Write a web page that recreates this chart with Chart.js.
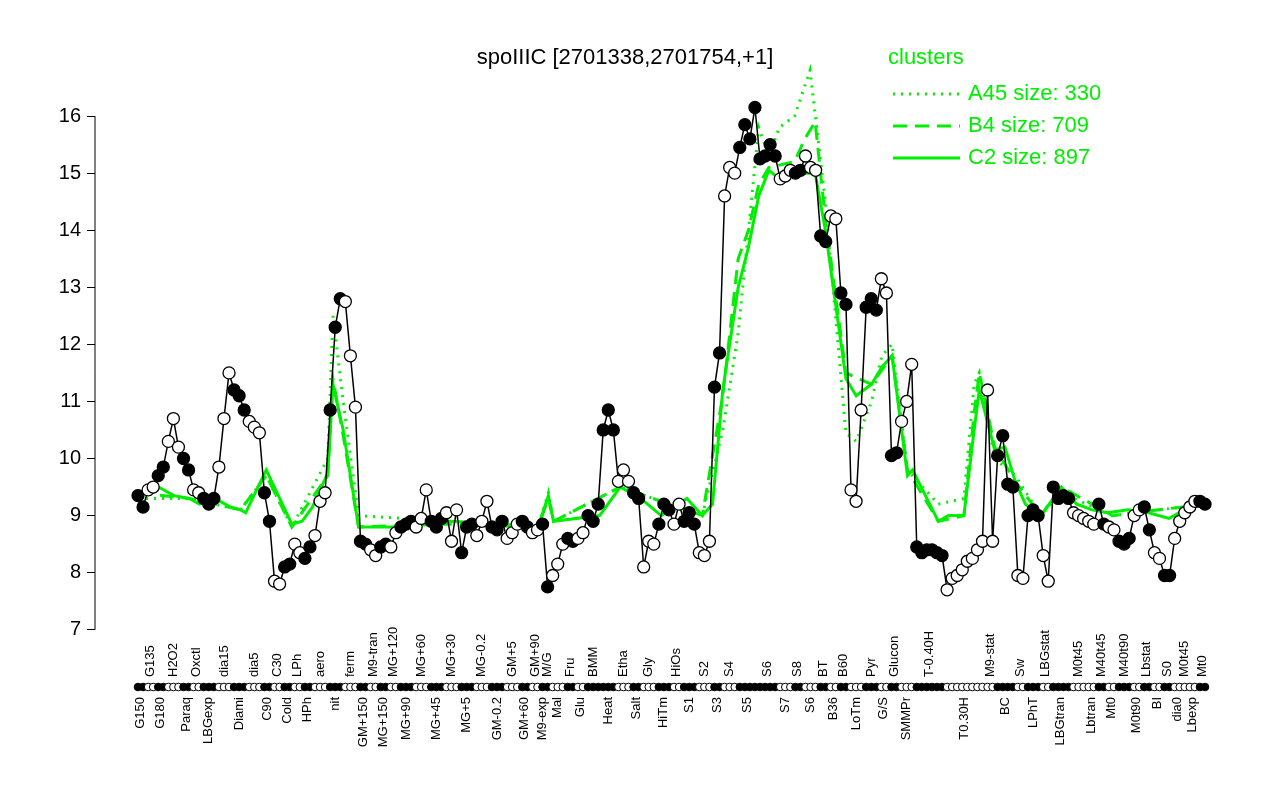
<!DOCTYPE html>
<html><head><meta charset="utf-8">
<script src="https://cdn.jsdelivr.net/npm/chart.js@4"></script>
<style>html,body{margin:0;padding:0;background:#fff}#w{width:1280px;height:800px}</style>
</head><body><div id="w"><canvas id="c"></canvas></div>
<script>
const groupNames = ["G150","G135","G180","H2O2","Paraq","Oxctl","LBGexp","dia15","Diami","dia5","C90","C30","Cold","LPh","HPh","aero","nit","ferm",
"GM+150","M9-tran","MG+150","MG+120","MG+90","MG+60","MG+45","MG+30","MG+5","MG-0.2","GM-0.2","GM+5","GM+60","GM+90","M9-exp",
"M/G","Mal","Fru","Glu","BMM","Heat","Etha","Salt","Gly","HiTm","HiOs","S1","S2","S3","S4","S5","S6","S7","S8","S6","BT","B36","B60","LoTm","Pyr","G/S","Glucon","SMMPr",
"T-0.40H","T0.30H","M9-stat","BC","Sw","LPhT","LBGstat","LBGtran","M0t45","Lbtran","M40t45","Mt0","M40t90","M0t90","Lbstat","BI","S0","dia0","M0t45","Lbexp","Mt0"];
const groupValues = [[9.35,9.15],[9.45,9.5],[9.7,9.85],[10.3,10.7,10.2],[10.0,9.8],[9.45,9.4],[9.3,9.2,9.3],[9.85,10.7,11.5],[11.2,11.1,10.85],[10.65,10.55,10.45],[9.4,8.9],[7.85,7.8],[8.1,8.15],[8.5,8.35],[8.25,8.45],[8.65,9.25,9.4],[10.85,12.3,12.8],[12.75,11.8,10.9],
[8.55,8.5],[8.4,8.3],[8.45,8.5],[8.45,8.7],[8.8,8.85,8.9],[8.8,8.95,9.45],[8.9,8.8,8.95],[9.05,8.55,9.1],[8.35,8.8,8.85],[8.65,8.9,9.25],[8.8,8.75,8.9],[8.6,8.7,8.85],[8.9,8.8],[8.7,8.75],[8.85],
[7.75],[7.95,8.15,8.5],[8.6,8.55],[8.6,8.7],[9.0,8.9,9.2],[10.5,10.85,10.5],[9.6,9.8,9.6],[9.4,9.3],[8.1,8.55,8.5],[8.85,9.2,9.1],[8.85,9.2],[8.9,9.05,8.85],[8.35,8.3,8.55],[11.25,11.85],[14.6,15.1,15.0],[15.45,15.85,15.6,16.15],[15.25,15.3,15.5,15.3],[14.9,14.95,15.05],[15.0,15.05],[15.3,15.1,15.05],[13.9,13.8],[14.25,14.2],[12.9,12.7],[9.45,9.25,10.85],[12.65,12.8,12.6],[13.15,12.9],[10.05,10.1],[10.65,11.0,11.65],
[8.45,8.35,8.4,8.4,8.35,8.3],[7.7,7.9,7.95,8.05,8.2,8.25,8.4,8.55],[11.2,8.55],[10.05,10.4,9.55,9.5],[7.95,7.9],[9.0,9.1,9.0],[8.3,7.85],[9.5,9.3,9.35,9.3],[9.05,9.0,8.95],[8.9,8.85],[9.2,8.85],[8.8,8.75],[8.55,8.5,8.6],[9.0,9.1],[9.15,8.75],[8.35,8.25],[7.95,7.95],[8.6,8.9],[9.05],[9.15,9.25],[9.25,9.2]];
const groupFilled = [1,0,1,0,1,0,1,0,1,0,1,0,1,0,1,0,1,0,1,0,1,0,1,0,1,0,1,0,1,0,1,0,1,1,0,1,0,1,1,0,1,0,1,0,1,0,1,0,1,1,0,1,0,1,0,1,0,1,0,1,0,1,0,0,1,0,1,0,1,0,0,1,0,1,0,1,0,1,0,0,0,1];
const c2X = [0,4,7,10,12,15,18,20,21,25,30,32,34,37,38,40,43,51,61,71,78,80,81,90,94,98,102,107,110,112,114,117,119,121,123,125,128,132,134,138,140,143,145,147,150,151,156,158,161,163,164,167,169,171,173,176,180,183,186,189,193,197,201,204,208];
const c2Y = [9.4,9.5,9.35,9.3,9.2,9.3,9.15,9.1,9.05,9.8,8.85,8.9,9.15,9.75,11.3,10.5,8.8,8.8,8.9,8.85,8.8,9.35,8.9,9.0,9.5,9.3,9.0,9.3,9.0,9.2,11.2,13.0,13.7,14.6,15.05,14.9,15.0,15.0,14.0,11.4,11.1,11.3,11.6,11.8,9.7,9.8,8.9,9.0,9.0,10.5,11.2,10.15,10.2,9.6,9.2,9.0,9.5,9.2,9.1,9.05,9.1,9.05,8.95,9.1,9.2];
const b4X = [0,10,20,25,30,37,38,40,43,60,78,80,81,94,110,114,117,119,121,123,128,130,132,134,138,143,147,150,156,161,163,164,167,171,176,180,190,208];
const b4Y = [9.4,9.3,9.1,9.7,8.8,9.7,11.4,10.4,8.8,8.85,8.8,9.3,8.9,9.5,9.0,11.1,13.5,14.0,14.8,15.1,15.2,15.6,15.9,14.2,11.5,11.3,11.8,9.8,8.9,9.0,10.8,11.5,10.2,9.6,9.0,9.5,9.0,9.2];
const a45X = [0,10,20,25,30,37,38,40,43,60,78,80,81,94,110,114,117,119,121,123,125,128,131,134,138,140,143,145,147,150,156,161,163,164,167,171,176,180,190,208];
const a45Y = [9.3,9.3,9.1,9.7,8.8,10.0,12.5,11.0,9.0,8.9,8.8,9.4,8.9,9.5,9.0,10.5,12.2,14.0,15.8,15.3,15.8,16.0,16.8,14.5,10.45,10.3,11.0,11.8,12.0,9.8,9.2,9.3,11.3,11.5,10.0,9.7,9.0,9.4,9.0,9.2];
const yTicks = [7,8,9,10,11,12,13,14,15,16];
const titleText = "spoIIIC [2701338,2701754,+1]";
const legendItems = [["A45 size: 330",[2,6]],["B4 size: 709",[14,8]],["C2 size: 897",[]]];

const labels=[], values=[], filled=[];
groupNames.forEach((g,i)=>{groupValues[i].forEach(v=>{labels.push(g);values.push(v);filled.push(groupFilled[i]);});});
const N = values.length;
const toXY=(xs,ys)=>xs.map((x,i)=>({x:x*(N-1)/208,y:ys[i]}));
const GREEN='#00ee00';
const FONT='"Liberation Sans", Arial, sans-serif';

const deco={id:'deco',afterDraw(ch){
 const ctx=ch.ctx, xs=ch.scales.x, ys=ch.scales.y, a=ch.chartArea;
 ctx.save();
 ctx.strokeStyle='#000';ctx.lineWidth=1;
 ctx.beginPath();ctx.moveTo(a.left,ys.getPixelForValue(7));ctx.lineTo(a.left,ys.getPixelForValue(16));ctx.stroke();
 ctx.fillStyle='#000';ctx.font='22px '+FONT;ctx.textAlign='center';ctx.textBaseline='middle';
 ctx.fillText(titleText,625,58);
 ctx.fillStyle=GREEN;ctx.textAlign='left';ctx.font='22px '+FONT;
 ctx.fillText('clusters',888,58);
 legendItems.forEach((it,k)=>{const y=94+k*32;
  ctx.strokeStyle=GREEN;ctx.lineWidth=3;ctx.setLineDash(it[1]);
  ctx.beginPath();ctx.moveTo(893,y);ctx.lineTo(960,y);ctx.stroke();ctx.setLineDash([]);
  ctx.fillText(it[0],968,y);});
 const dy=687;
 for(let i=0;i<N;i++){const px=xs.getPixelForValue(i);
  ctx.beginPath();ctx.arc(px,dy,3.8,0,Math.PI*2);ctx.fillStyle=filled[i]?'#000':'#fff';ctx.fill();ctx.strokeStyle='#000';ctx.lineWidth=1;ctx.stroke();}
 ctx.font='13px '+FONT;ctx.fillStyle='#000';ctx.textBaseline='middle';
 let start=0;
 for(let g=0;g<groupNames.length;g++){const n=groupValues[g].length;
  const px=xs.getPixelForValue(start+(n-1)/2);
  ctx.save();ctx.translate(px,g%2===0?697:677);ctx.rotate(-Math.PI/2);
  ctx.textAlign=g%2===0?'right':'left';ctx.fillText(groupNames[g],0,0);ctx.restore();
  start+=n;}
 ctx.restore();}};

new Chart(document.getElementById('c'),{
 type:'line',
 data:{datasets:[
  {data:values.map((v,i)=>({x:i,y:v})),borderColor:'#000',borderWidth:1.5,pointRadius:6,pointBorderWidth:1.3,pointBorderColor:'#000',
   pointBackgroundColor:filled.map(f=>f?'#000':'#fff'),order:0},
  {data:toXY(c2X,c2Y),borderColor:GREEN,borderWidth:3,pointRadius:0,order:1},
  {data:toXY(b4X,b4Y),borderColor:GREEN,borderWidth:3,borderDash:[14,8],pointRadius:0,order:2},
  {data:toXY(a45X,a45Y),borderColor:GREEN,borderWidth:3,borderDash:[2,6],pointRadius:0,order:3}
 ]},
 options:{responsive:true,maintainAspectRatio:false,animation:false,
  layout:{padding:{top:59,bottom:160,right:65,left:0}},
  plugins:{legend:{display:false},title:{display:false},tooltip:{enabled:false}},
  scales:{
   x:{type:'linear',display:false,min:-(43/5.13)*(N-1)/208,max:(N-1)+(10/5.13)*(N-1)/208},
   y:{min:6.82,max:17,border:{display:false},grid:{drawOnChartArea:false,tickLength:8,color:'#000'},
    afterBuildTicks:s=>{s.ticks=yTicks.map(v=>({value:v}));},
    afterFit:s=>{s.width=95;},
    ticks:{color:'#000',font:{size:20,family:FONT},padding:6}}
  }},
 plugins:[deco]});
</script></body></html>
